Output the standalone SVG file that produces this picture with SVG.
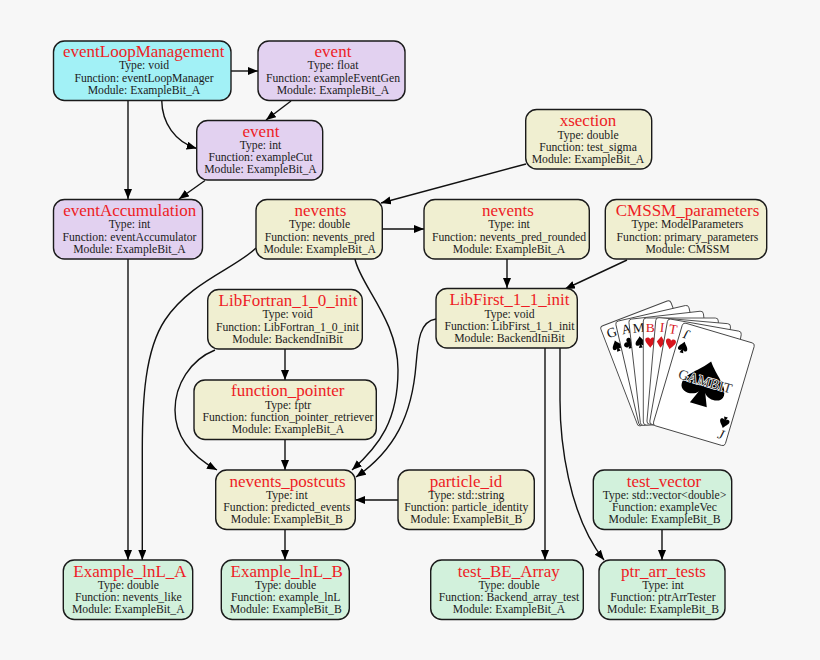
<svg xmlns="http://www.w3.org/2000/svg" xmlns:xlink="http://www.w3.org/1999/xlink" width="820" height="660" viewBox="0 0 820 660">
<style>
text{font-family:"Liberation Serif","Times New Roman",serif;text-anchor:middle;fill:#1c1c1c}
.t{font-size:17px;fill:#ee1c25}
.b{font-size:11.7px}
.n rect{stroke:#1a1a1a;stroke-width:1.4}
.c{fill:#a2f1f6}.p{fill:#e2d1f0}.y{fill:#f0efd1}.g{fill:#d2f1dc}
#edges path{fill:none;stroke:#111;stroke-width:1.4;marker-end:url(#a)}
.card{fill:#fff;stroke:#444;stroke-width:.9}
.cl{font-size:13.5px;fill:#111}
.cr{font-size:13.5px;fill:#d8141c}
</style>
<defs>
<marker id="a" markerUnits="userSpaceOnUse" markerWidth="11" markerHeight="9" refX="10" refY="4" orient="auto"><path d="M0,0L10,4L0,8Z" fill="#000"/></marker>
<rect id="cardshape" x="0" y="-107" width="75" height="107" rx="3"/>
<path id="spade" d="M0,-5C-1.5,-2.5-4,-1-4,1.2C-4,3-1.5,3.3-.6,1.8L-1.6,4.6H1.6L.6,1.8C1.5,3.3,4,3,4,1.2C4,-1,1.5,-2.5,0,-5Z"/>
<path id="club" d="M0,-4.6A2.1,2.1,0,0,1,1.4,-1A2.2,2.2,0,1,1,.6,2.1L1.6,4.4H-1.6L-.6,2.1A2.2,2.2,0,1,1,-1.4,-1A2.1,2.1,0,0,1,0,-4.6Z"/>
<path id="heart" d="M0,4.8C-1.5,2.5-4.2,.5-4.2,-1.8C-4.2,-4,-1,-4.6,0,-2.3C1,-4.6,4.2,-4,4.2,-1.8C4.2,.5,1.5,2.5,0,4.8Z"/>
<path id="diamond" d="M0,-4.8L3.4,0L0,4.8L-3.4,0Z"/>
</defs>
<rect width="820" height="660" fill="#f7f7f7"/>
<g id="edges">
<path d="M231,71H258"/>
<path d="M291,101L266,120"/>
<path d="M161.7,100C162,123 175,142 196.7,148.5"/>
<path d="M128,100V199"/>
<path d="M205,180.5L179,199"/>
<path d="M526,164L381,203"/>
<path d="M382,229H424"/>
<path d="M256,248C236,268 190,282 165,320C145,350 142.3,400 142.3,450V560"/>
<path d="M128,259V560"/>
<path d="M355,259C360,285 398,320 398,370C398,420 380,445 352,470"/>
<path d="M285,349V380"/>
<path d="M215,350C190,360 175,385 175,410C175,440 195,458 217,470"/>
<path d="M285,440V470"/>
<path d="M436,319C420,321 418,340 416,365C412,415 395,450 356,477"/>
<path d="M398,500H355"/>
<path d="M545,348V560"/>
<path d="M560,348V400C560,440 568,515 604,560"/>
<path d="M627,260L565,289"/>
<path d="M507,259V288"/>
<path d="M662,530V560"/>
<path d="M285,530V560"/>
</g>
<g id="eventLoopManagement" class="n"><rect class="c" x="53.5" y="41" width="177.5" height="59.5" rx="11"/><text class="t" x="143.7" y="57">eventLoopManagement</text><text class="b" x="144" y="69">Type: void</text><text class="b" x="144" y="81.5">Function: eventLoopManager</text><text class="b" x="144" y="93.5">Module: ExampleBit_A</text></g>
<g id="event_float" class="n"><rect class="p" x="258" y="41" width="147" height="59.5" rx="11"/><text class="t" x="333" y="57">event</text><text class="b" x="333" y="69">Type: float</text><text class="b" x="333" y="81.5">Function: exampleEventGen</text><text class="b" x="333" y="93.5">Module: ExampleBit_A</text></g>
<g id="event_int" class="n"><rect class="p" x="196.7" y="120.5" width="126" height="59.5" rx="11"/><text class="t" x="261" y="137">event</text><text class="b" x="260.5" y="149">Type: int</text><text class="b" x="260.5" y="161">Function: exampleCut</text><text class="b" x="260.5" y="173">Module: ExampleBit_A</text></g>
<g id="xsection" class="n"><rect class="y" x="525.7" y="109.5" width="126" height="59.5" rx="11"/><text class="t" x="588" y="126">xsection</text><text class="b" x="588" y="139">Type: double</text><text class="b" x="588" y="151">Function: test_sigma</text><text class="b" x="588" y="163">Module: ExampleBit_A</text></g>
<g id="eventAccumulation" class="n"><rect class="p" x="53.5" y="199.5" width="149" height="59.5" rx="11"/><text class="t" x="129.7" y="216">eventAccumulation</text><text class="b" x="129.5" y="228">Type: int</text><text class="b" x="129.5" y="241">Function: eventAccumulator</text><text class="b" x="129.5" y="253">Module: ExampleBit_A</text></g>
<g id="nevents_pred" class="n"><rect class="y" x="256" y="199.5" width="126.3" height="59.5" rx="11"/><text class="t" x="320.5" y="216">nevents</text><text class="b" x="319.7" y="228">Type: double</text><text class="b" x="319.7" y="241">Function: nevents_pred</text><text class="b" x="319.7" y="253">Module: ExampleBit_A</text></g>
<g id="nevents_pred_rounded" class="n"><rect class="y" x="424" y="199.5" width="165.3" height="59.5" rx="11"/><text class="t" x="508" y="216">nevents</text><text class="b" x="509" y="228">Type: int</text><text class="b" x="509" y="241">Function: nevents_pred_rounded</text><text class="b" x="509" y="253">Module: ExampleBit_A</text></g>
<g id="CMSSM_parameters" class="n"><rect class="y" x="605.3" y="199.5" width="161.4" height="59.5" rx="11"/><text class="t" x="687.5" y="216">CMSSM_parameters</text><text class="b" x="687.5" y="228">Type: ModelParameters</text><text class="b" x="687.5" y="241">Function: primary_parameters</text><text class="b" x="687.5" y="253">Module: CMSSM</text></g>
<g id="LibFortran_1_0_init" class="n"><rect class="y" x="207.7" y="289.5" width="154.6" height="59.5" rx="11"/><text class="t" x="288" y="306">LibFortran_1_0_init</text><text class="b" x="287.5" y="318">Type: void</text><text class="b" x="287.5" y="331">Function: LibFortran_1_0_init</text><text class="b" x="287.5" y="343">Module: BackendIniBit</text></g>
<g id="LibFirst_1_1_init" class="n"><rect class="y" x="436" y="288.5" width="141.3" height="59.5" rx="11"/><text class="t" x="509.5" y="305">LibFirst_1_1_init</text><text class="b" x="509.5" y="317.5">Type: void</text><text class="b" x="509.5" y="330">Function: LibFirst_1_1_init</text><text class="b" x="509.5" y="342">Module: BackendIniBit</text></g>
<g id="function_pointer" class="n"><rect class="y" x="194" y="380" width="182.3" height="59.5" rx="11"/><text class="t" x="287.7" y="396">function_pointer</text><text class="b" x="288" y="409">Type: fptr</text><text class="b" x="288" y="421">Function: function_pointer_retriever</text><text class="b" x="288" y="433">Module: ExampleBit_A</text></g>
<g id="nevents_postcuts" class="n"><rect class="y" x="215.7" y="470" width="139.6" height="59.5" rx="11"/><text class="t" x="287.5" y="487">nevents_postcuts</text><text class="b" x="286.8" y="499">Type: int</text><text class="b" x="286.8" y="511">Function: predicted_events</text><text class="b" x="286.8" y="523">Module: ExampleBit_B</text></g>
<g id="particle_id" class="n"><rect class="y" x="398" y="470" width="136.3" height="59.5" rx="11"/><text class="t" x="466" y="487">particle_id</text><text class="b" x="466.3" y="499">Type: std::string</text><text class="b" x="466.3" y="511">Function: particle_identity</text><text class="b" x="466.3" y="523">Module: ExampleBit_B</text></g>
<g id="test_vector" class="n"><rect class="g" x="593.3" y="470" width="138.4" height="59.5" rx="11"/><text class="t" x="664" y="487">test_vector</text><text class="b" x="664.5" y="499">Type: std::vector&lt;double&gt;</text><text class="b" x="664.5" y="511">Function: exampleVec</text><text class="b" x="664.5" y="523">Module: ExampleBit_B</text></g>
<g id="Example_lnL_A" class="n"><rect class="g" x="63.3" y="560" width="129.4" height="59.5" rx="11"/><text class="t" x="130" y="577">Example_lnL_A</text><text class="b" x="128.3" y="589">Type: double</text><text class="b" x="128.3" y="601">Function: nevents_like</text><text class="b" x="128.3" y="613">Module: ExampleBit_A</text></g>
<g id="Example_lnL_B" class="n"><rect class="g" x="221.3" y="560" width="128" height="59.5" rx="11"/><text class="t" x="286.7" y="577">Example_lnL_B</text><text class="b" x="285.7" y="589">Type: double</text><text class="b" x="285.7" y="601">Function: example_lnL</text><text class="b" x="285.7" y="613">Module: ExampleBit_B</text></g>
<g id="test_BE_Array" class="n"><rect class="g" x="430.7" y="560" width="152.6" height="59.5" rx="11"/><text class="t" x="508.8" y="577">test_BE_Array</text><text class="b" x="509" y="589">Type: double</text><text class="b" x="509" y="601">Function: Backend_array_test</text><text class="b" x="509" y="613">Module: ExampleBit_A</text></g>
<g id="ptr_arr_tests" class="n"><rect class="g" x="599" y="560" width="126" height="59.5" rx="11"/><text class="t" x="663.5" y="577">ptr_arr_tests</text><text class="b" x="663" y="589">Type: int</text><text class="b" x="663" y="601">Function: ptrArrTester</text><text class="b" x="663" y="613">Module: ExampleBit_B</text></g>
<g id="gambit_cards">
<g transform="translate(638.3,426.7) rotate(-21)"><use href="#cardshape" class="card"/><text class="cl" x="9" y="-93">G</text><use href="#spade" transform="translate(9,-83) scale(1.2)"/></g>
<g transform="translate(639.3,426) rotate(-13)"><use href="#cardshape" class="card"/><text class="cl" x="9" y="-93">A</text><use href="#club" transform="translate(9,-83) scale(1.2)"/></g>
<g transform="translate(640.7,425.7) rotate(-6.5)"><use href="#cardshape" class="card"/><text class="cl" x="9" y="-93">M</text><use href="#spade" transform="translate(9,-83) scale(1.2)"/></g>
<g transform="translate(643.3,425)"><use href="#cardshape" class="card"/><text class="cr" x="7" y="-93">B</text><use href="#heart" transform="translate(7,-83) scale(1.2)" fill="#d8141c"/></g>
<g transform="translate(646.7,424) rotate(5)"><use href="#cardshape" class="card"/><text class="cr" x="7" y="-93">I</text><use href="#diamond" transform="translate(7,-83) scale(1.2)" fill="#d8141c"/></g>
<g transform="translate(649.3,424) rotate(10)"><use href="#cardshape" class="card"/><text class="cr" x="7" y="-93">T</text><use href="#heart" transform="translate(7,-83) scale(1.2)" fill="#d8141c"/></g>
<g transform="translate(652.7,425) rotate(16.5)"><use href="#cardshape" class="card"/>
<text class="cl" x="7" y="-93" transform="rotate(180 7 -97)" font-style="italic">J</text><use href="#spade" transform="translate(7,-83) scale(1.2)"/>
<use href="#spade" transform="translate(38,-54) scale(5.5,4.7)"/>
<text x="38" y="-52" style="font-size:14px;fill:#fff;stroke:#fff;stroke-width:1.4px;paint-order:stroke">GAMBIT</text>
<text x="38" y="-52" style="font-size:14px;fill:#333">GAMBIT</text>
<text class="cl" x="68" y="-6" font-style="italic">J</text><use href="#spade" transform="translate(68,-23) rotate(180) scale(1.2)"/></g>
</g>
</svg>
